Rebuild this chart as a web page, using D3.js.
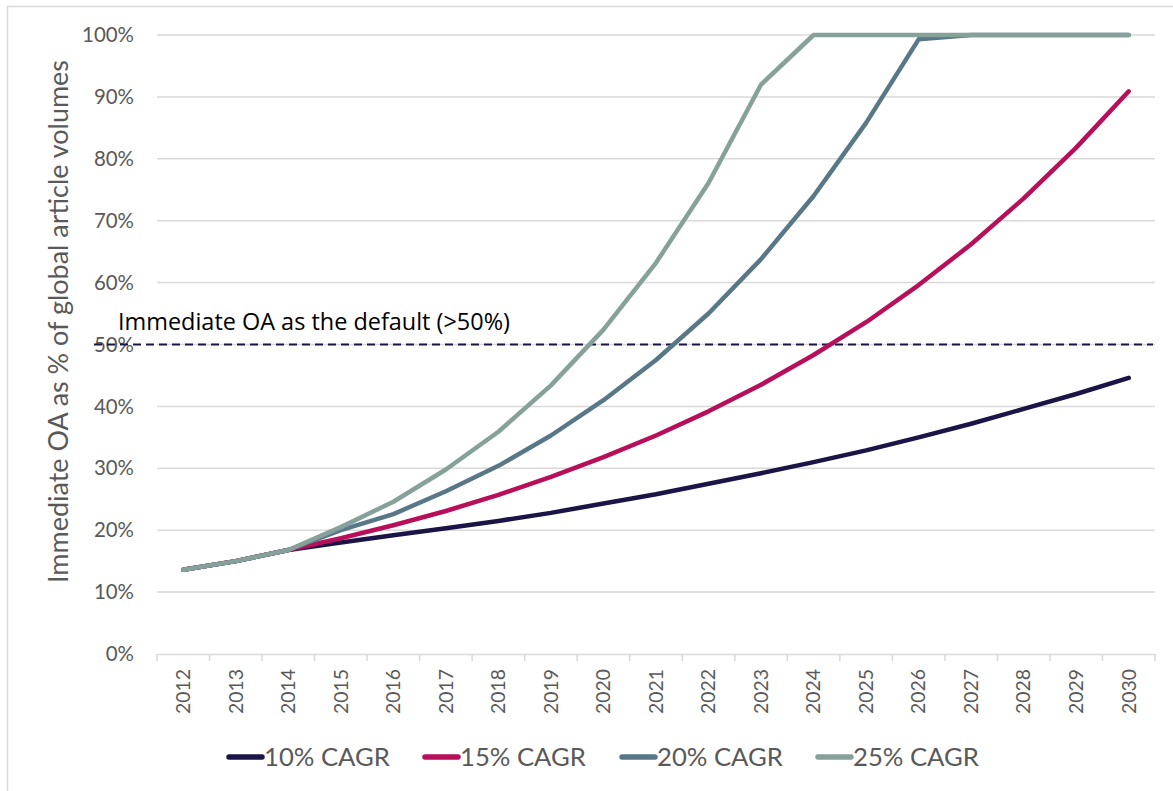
<!DOCTYPE html>
<html>
<head>
<meta charset="utf-8">
<script src="https://cdn.jsdelivr.net/npm/d3@7"></script>
<style>
  html, body { margin: 0; padding: 0; background: #fff; }
  svg { display: block; }
</style>
</head>
<body>
<svg id="chart" width="1173" height="791"></svg>
<script>
const years = ["2012","2013","2014","2015","2016","2017","2018","2019","2020","2021","2022","2023","2024","2025","2026","2027","2028","2029","2030"];
const cagr10 = [13.6,15.0,16.8,18.0,19.2,20.3,21.5,22.8,24.3,25.8,27.5,29.2,31.0,32.9,35.0,37.2,39.6,42.0,44.6];
const cagr15 = [13.6,15.0,16.8,18.7,20.8,23.1,25.7,28.6,31.8,35.3,39.2,43.5,48.3,53.6,59.6,66.2,73.6,81.8,90.9];
const cagr20 = [13.6,15.0,16.8,20.0,22.6,26.3,30.4,35.3,41.0,47.5,55.0,63.8,74.0,85.8,99.3,100,100,100,100];
const cagr25 = [13.6,15.0,16.8,20.5,24.6,29.8,35.9,43.4,52.4,63.2,76.1,92.0,100,100,100,100,100,100,100];
const seriesNames = ["10% CAGR","15% CAGR","20% CAGR","25% CAGR"];
const seriesColors = ["#1b1446","#b80f5a","#587888","#86a09a"];
const yTicks = [0,10,20,30,40,50,60,70,80,90,100];
const thresholdValue = 50;
const thresholdLabel = "Immediate OA as the default (>50%)";
const yTitle = "Immediate OA as % of global article volumes";

(function(){
const svg = d3.select("#chart");
const font = "Lato, 'Open Sans', sans-serif";
const grey = "#595959";

// scale a font so that a sample text reaches a target width
function fitSize(family, sample, target){
  const t = svg.append("text").attr("font-family",family).attr("font-size",20).text(sample);
  const w = t.node().getComputedTextLength();
  t.remove();
  return 20*target/w;
}
const yTickSize = fitSize(font,"100%",52);
const xTickSize = fitSize(font,"2012",45);
const titleSize = fitSize(font,yTitle,523);
const annSize = fitSize("'Open Sans', sans-serif",thresholdLabel,392);
const legSize = fitSize(font,"10% CAGR",126);

// outer border
svg.append("rect").attr("x",7.5).attr("y",6.5).attr("width",1200).attr("height",900)
  .attr("fill","none").attr("stroke","#d9d9d9").attr("stroke-width",1.5);

const pLeft = 157, pRight = 1155, pTop = 35, pBottom = 654;
const x = d3.scaleBand().domain(years).range([pLeft,pRight]).padding(0);
const y = d3.scaleLinear().domain([0,100]).range([pBottom,pTop]);

// gridlines
svg.append("g").selectAll("line").data(yTicks.filter(d=>d>0)).join("line")
  .attr("x1",pLeft).attr("x2",pRight).attr("y1",d=>y(d)).attr("y2",d=>y(d))
  .attr("stroke","#d9d9d9").attr("stroke-width",1.5);

// y labels
svg.append("g").selectAll("text").data(yTicks).join("text")
  .attr("x",134).attr("y",d=>y(d)).attr("dy","0.35em").attr("text-anchor","end")
  .attr("font-family",font).attr("font-size",yTickSize).attr("fill",grey)
  .text(d=>d+"%");

// x axis
const xAxis = d3.axisBottom(x).tickSize(0).tickFormat(d=>d);
const gx = svg.append("g").attr("transform",`translate(0,${pBottom})`).call(xAxis);
gx.select(".domain").attr("stroke","#d9d9d9").attr("stroke-width",1.5);
gx.selectAll(".tick text")
  .attr("font-family",font).attr("font-size",xTickSize).attr("fill",grey)
  .attr("transform","rotate(-90)").attr("text-anchor","end")
  .attr("x",-15).attr("y",0).attr("dy","0.35em");
// boundary tick marks
const bounds = years.map(d=>x(d)).concat([x(years[years.length-1])+x.bandwidth()]);
svg.append("g").selectAll("line").data(bounds).join("line")
  .attr("x1",d=>d).attr("x2",d=>d).attr("y1",pBottom).attr("y2",pBottom+7)
  .attr("stroke","#d9d9d9").attr("stroke-width",1.5);

// y title
svg.append("text")
  .attr("transform",`translate(68,${(60+583)/2}) rotate(-90)`)
  .attr("text-anchor","middle")
  .attr("font-family",font).attr("font-size",titleSize).attr("fill",grey)
  .text(yTitle);

// threshold line
svg.append("line").attr("x1",94).attr("x2",1153).attr("y1",y(thresholdValue)).attr("y2",y(thresholdValue))
  .attr("stroke","#1b1446").attr("stroke-width",1.8).attr("stroke-dasharray","8,5");
svg.append("text").attr("x",118).attr("y",y(thresholdValue)-15)
  .attr("font-family","'Open Sans', sans-serif").attr("font-size",annSize).attr("fill","#000")
  .text(thresholdLabel);

// series
const allSeries = [cagr10,cagr15,cagr20,cagr25];
const line = d3.line().x((d,i)=>x(years[i])+x.bandwidth()/2).y(d=>y(d));
allSeries.forEach((s,k)=>{
  svg.append("path").datum(s).attr("d",line)
    .attr("fill","none").attr("stroke",seriesColors[k]).attr("stroke-width",4.5)
    .attr("stroke-linecap","round").attr("stroke-linejoin","round");
});

// legend
const legendX = [229,425,622,818];
const lg = svg.append("g");
seriesNames.forEach((n,k)=>{
  lg.append("line").attr("x1",legendX[k]).attr("x2",legendX[k]+33).attr("y1",757).attr("y2",757)
    .attr("stroke",seriesColors[k]).attr("stroke-width",5.5).attr("stroke-linecap","round");
  lg.append("text").attr("x",legendX[k]+35).attr("y",757).attr("dy","0.35em")
    .attr("font-family",font)
    .attr("font-size",legSize).attr("fill",grey).text(n);
});
})();
</script>
</body>
</html>
